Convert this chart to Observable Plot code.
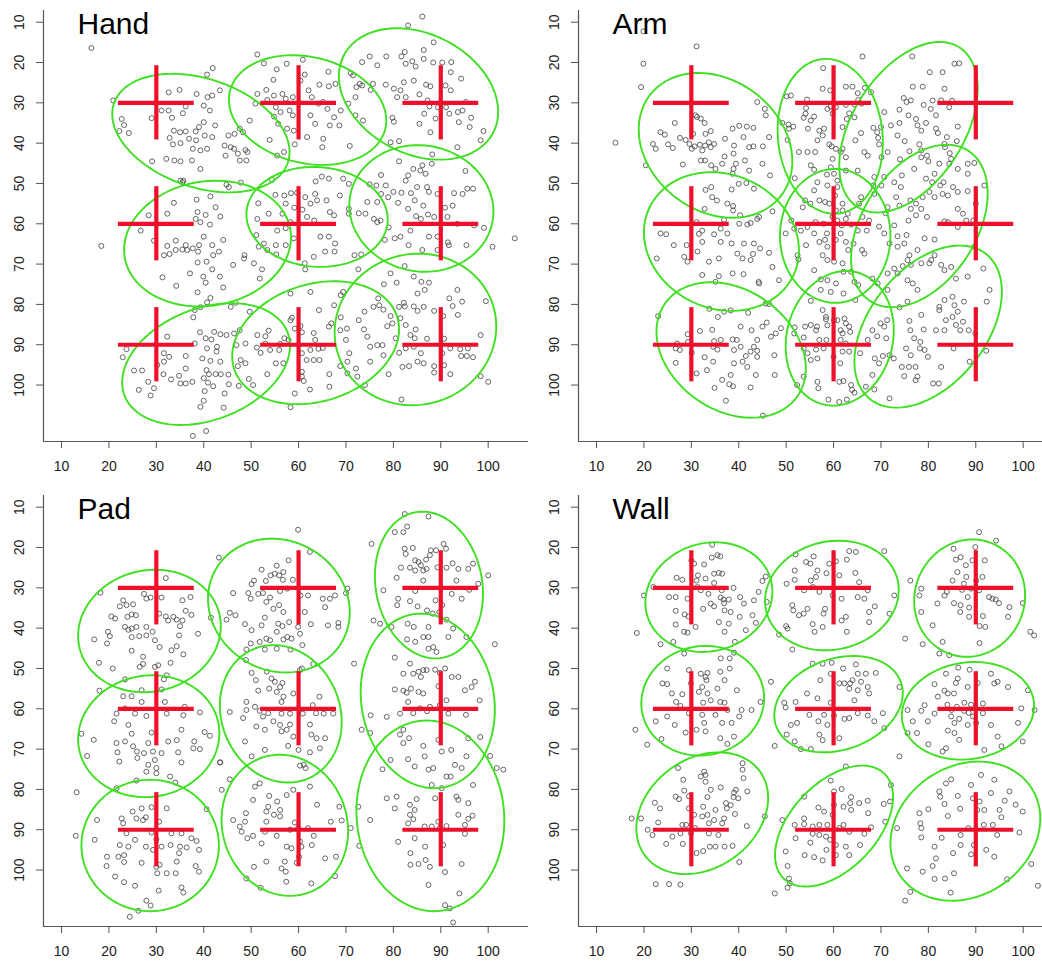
<!DOCTYPE html>
<html><head><meta charset="utf-8">
<script src="https://cdn.jsdelivr.net/npm/d3@7"></script>
<script src="https://cdn.jsdelivr.net/npm/@observablehq/plot@0.6"></script>
<style>
body{margin:0;background:#fff;}
#fig{position:relative;width:1042px;height:963px;overflow:hidden;background:#fff;font-family:"Liberation Sans",Arial,Helvetica,sans-serif;}
#fig svg{position:absolute;}
</style></head><body><div id="fig"></div>
<script>
// ---------- data ----------
const panelNames = ["Hand", "Arm", "Pad", "Wall"];
const targets = [30, 60, 90];
const xTicks = [10, 20, 30, 40, 50, 60, 70, 80, 90, 100];
const yTicks = [10, 20, 30, 40, 50, 60, 70, 80, 90, 100];

const handPts = [[16.3,16.4],[20.9,29.4],[22.7,34.0],[23.2,35.5],[22.2,37.0],[24.2,37.5],[29.1,44.5],[29.0,33.8],[31.1,31.9],[32.6,27.4],[34.9,26.8],[32.6,31.9],[33.3,33.7],[35.6,32.6],[36.2,30.9],[38.5,27.8],[33.7,36.9],[35.0,37.3],[32.8,38.7],[33.5,40.3],[35.1,40.0],[32.1,43.9],[33.8,44.3],[35.1,44.5],[37.5,44.3],[39.3,46.4],[35.7,49.3],[36.2,37.1],[38.3,37.1],[36.9,38.9],[39.0,36.0],[40.0,34.8],[38.4,39.3],[40.2,38.1],[41.8,38.5],[40.7,41.4],[37.7,41.4],[39.3,41.8],[42.4,35.6],[40.0,30.7],[41.3,31.9],[40.7,23.0],[41.9,21.4],[40.8,28.6],[41.8,28.2],[43.4,26.9],[45.2,38.1],[44.4,40.6],[45.7,41.0],[44.6,43.1],[46.4,41.4],[47.2,42.6],[47.6,44.3],[49.0,44.3],[49.2,42.2],[48.8,41.7],[46.5,37.7],[47.6,36.4],[49.7,34.4],[48.3,37.3],[35.5,49.7],
[51.3,18.0],[52.7,20.2],[55.4,21.7],[57.5,20.3],[60.9,19.3],[61.3,23.0],[60.4,24.5],[54.7,24.3],[53.2,26.8],[51.3,27.8],[50.9,30.2],[53.4,29.3],[54.8,28.2],[56.6,27.8],[57.3,29.0],[58.8,28.6],[55.2,31.1],[56.2,32.3],[58.1,31.9],[58.8,33.1],[54.8,33.4],[55.7,35.2],[57.6,36.4],[59.0,36.9],[61.8,38.5],[59.2,40.3],[56.9,42.2],[55.5,43.1],[53.9,39.2],[62.5,33.1],[63.5,35.2],[64.2,30.2],[62.8,28.6],[62.1,26.9],[64.4,25.5],[66.3,22.3],[66.4,25.9],[67.8,25.3],[65.2,29.8],[66.1,31.5],[67.5,33.6],[68.9,31.9],[68.6,35.6],[66.6,35.6],[65.0,41.0],[65.2,38.9],[70.8,40.7],[71.0,22.6],[71.5,23.2],[70.5,30.2],[72.0,28.6],[72.2,26.1],[72.0,33.1],[73.6,34.4],[72.9,25.3],
[86.1,8.6],[83.1,10.8],[88.5,15.0],[73.4,19.9],[75.0,18.5],[76.6,20.7],[78.5,18.5],[81.7,18.5],[82.4,17.4],[82.6,20.3],[84.0,19.7],[84.7,21.0],[86.4,16.9],[86.4,19.1],[88.4,20.0],[90.3,20.0],[92.2,19.9],[92.1,22.4],[94.3,24.0],[78.4,25.5],[73.4,25.7],[75.2,26.8],[75.7,25.3],[80.1,26.5],[81.5,26.9],[82.2,24.9],[84.3,24.5],[80.8,28.6],[82.6,28.6],[85.5,27.9],[86.9,25.5],[87.8,25.9],[91.0,25.7],[92.1,26.9],[87.2,29.4],[87.6,30.9],[89.4,31.1],[91.1,31.1],[91.8,32.7],[93.6,32.3],[86.5,32.7],[88.9,33.9],[85.5,35.2],[79.8,33.7],[80.1,34.7],[79.4,39.8],[81.2,39.5],[87.8,37.3],[93.5,41.0],[93.8,34.8],[96.1,36.0],[96.4,33.7],[95.3,29.8],[98.4,39.3],[99.0,37.0],[94.6,31.9],
[35.1,49.3],[33.7,54.8],[41.4,53.2],[38.5,54.0],[38.7,57.1],[38.3,58.8],[40.4,57.8],[42.5,55.9],[44.8,50.3],[45.3,50.9],[47.8,49.8],[43.5,58.2],[39.3,59.6],[41.3,60.2],[28.4,57.9],[32.3,57.5],[26.7,61.7],[18.4,65.5],[29.5,64.2],[31.6,67.8],[32.8,67.5],[32.3,65.5],[34.1,64.2],[34.1,66.5],[35.5,66.4],[36.2,65.3],[36.5,66.5],[37.7,66.1],[39.0,65.3],[38.8,66.9],[40.0,63.2],[38.7,69.6],[40.6,69.4],[42.0,67.8],[43.2,66.9],[41.8,65.3],[44.1,64.0],[46.2,70.2],[48.6,67.8],[48.5,68.6],[50.6,69.8],[51.1,62.8],[52.3,71.3],[51.8,73.6],[31.3,73.3],[37.1,72.3],[39.9,73.1],[40.4,74.6],[41.8,71.3],[43.4,73.1],[44.1,75.8],[34.2,75.4],[38.7,77.0],[41.4,78.4],[46.7,79.6],
[54.4,49.1],[63.6,49.5],[64.9,48.3],[66.4,48.8],[69.4,48.8],[70.6,50.1],[51.5,54.9],[53.7,57.5],[55.1,52.8],[57.0,53.0],[58.4,52.4],[59.7,52.3],[61.4,53.4],[62.5,55.0],[63.5,52.6],[63.9,54.2],[65.9,54.2],[68.7,53.0],[66.6,57.1],[67.5,57.9],[70.6,56.3],[70.6,57.5],[72.7,57.4],[74.1,57.5],[74.5,54.6],[75.9,58.8],[77.3,59.2],[57.3,55.0],[56.6,57.5],[59.1,56.0],[60.8,56.5],[61.8,58.3],[63.3,59.2],[57.3,61.1],[58.3,59.6],[55.5,61.7],[51.3,58.8],[51.6,65.7],[53.4,66.5],[52.7,64.9],[55.2,65.3],[57.3,65.3],[59.0,63.6],[61.3,69.8],[61.4,71.3],[63.2,68.2],[64.6,63.2],[66.4,63.2],[67.7,64.9],[67.6,66.9],[65.6,66.9],[55.3,67.6],[71.8,67.8],
[88.2,42.8],[81.2,44.5],[84.2,46.4],[86.1,45.5],[85.7,46.8],[88.1,45.1],[86.8,47.6],[83.1,48.0],[82.6,49.3],[77.4,47.9],[75.0,50.2],[76.4,50.5],[78.4,50.5],[77.4,52.6],[76.6,54.6],[78.9,53.4],[80.0,52.1],[81.7,52.3],[83.7,52.4],[85.0,50.9],[87.1,50.9],[87.5,52.1],[89.3,52.6],[92.8,52.4],[94.6,52.6],[95.6,51.3],[96.8,51.3],[95.2,46.9],[81.0,54.8],[83.1,56.3],[84.5,54.2],[86.3,55.5],[84.8,58.1],[87.3,57.7],[88.6,58.3],[90.9,56.0],[92.5,55.5],[91.4,58.3],[93.5,60.0],[99.1,61.0],[97.0,60.4],[76.6,59.6],[79.0,60.9],[83.6,61.7],[85.8,58.8],[78.2,64.0],[80.3,63.6],[81.5,63.2],[87.5,63.2],[89.3,63.2],[91.5,64.6],[89.3,66.5],[91.7,65.3],[95.4,65.3],[100.9,65.7],[105.6,63.6],[86.1,66.5],[83.2,65.3],[73.2,67.6],[72.6,71.3],
[38.1,81.4],[37.8,83.2],[39.3,80.7],[40.7,79.5],[39.2,86.9],[38.1,89.7],[40.4,88.4],[41.6,88.7],[42.2,86.8],[43.5,87.4],[44.8,87.6],[46.4,87.2],[40.7,90.9],[42.8,90.5],[42.7,91.7],[39.7,93.4],[41.4,94.0],[43.5,94.2],[32.3,88.0],[31.6,92.1],[32.7,93.0],[36.2,92.8],[31.6,94.2],[30.2,95.0],[31.5,97.3],[33.1,98.6],[34.8,97.7],[36.2,95.9],[37.6,99.2],[36.2,99.6],[35.1,99.6],[40.6,96.3],[41.1,97.3],[42.5,97.3],[43.6,97.3],[45.2,97.4],[40.0,98.3],[40.9,99.4],[42.0,100.3],[40.2,101.5],[45.3,99.8],[47.4,100.2],[49.5,98.5],[50.4,100.0],[44.4,102.1],[40.0,103.9],[39.3,105.4],[44.2,105.6],[37.7,112.6],[40.5,111.4],[22.9,93.1],[23.7,91.1],[25.3,96.4],[27.0,96.4],[26.3,101.2],[28.3,99.2],[29.5,100.8],[28.8,102.6],[47.8,93.8],[48.8,94.6],[47.2,95.3],[46.9,90.1],[48.8,89.7],[49.7,81.8],[47.6,86.4],[45.7,80.6],
[51.2,90.7],[52.0,92.0],[51.3,87.6],[53.0,87.9],[53.7,86.5],[53.0,89.7],[54.0,91.3],[53.4,97.3],[55.9,91.3],[56.1,89.8],[56.8,94.6],[55.2,94.6],[57.0,88.4],[57.9,88.8],[58.3,83.9],[59.2,86.0],[60.4,85.4],[60.7,86.9],[60.7,92.1],[60.7,96.7],[60.7,97.9],[61.7,93.8],[61.1,99.0],[62.5,91.3],[63.5,88.8],[63.2,93.8],[64.2,91.0],[65.1,90.8],[64.4,93.8],[63.2,87.1],[66.4,85.5],[64.3,81.4],[62.5,76.9],[58.3,77.3],[58.6,83.3],[66.9,84.7],[67.5,80.2],[68.9,77.7],[69.4,76.9],[68.9,83.2],[68.8,86.4],[70.2,86.0],[70.0,88.8],[70.7,92.1],[70.3,94.2],[70.3,97.1],[68.8,95.3],[66.5,97.3],[66.5,100.4],[62.4,101.1],[59.2,102.1],[58.3,105.5],[72.1,95.9],[72.4,97.9],[72.7,83.9],[73.9,81.8],[74.0,100.0],[73.8,86.2],[75.8,80.6],[75.1,94.2],[74.5,88.0],[75.1,90.5],[76.6,90.1],[77.7,90.1],[77.9,92.6],
[78.0,75.0],[79.4,72.3],[80.7,74.6],[82.4,70.5],[84.3,73.1],[85.9,74.4],[87.5,74.6],[86.6,76.4],[85.1,77.3],[86.4,80.6],[85.1,81.6],[84.3,80.5],[82.2,79.6],[82.4,80.5],[81.2,80.6],[77.0,80.2],[76.8,78.5],[77.9,81.3],[79.4,82.9],[79.8,84.7],[78.7,85.4],[81.5,83.4],[82.6,85.1],[84.7,86.2],[88.6,81.6],[90.5,82.9],[91.8,78.5],[92.5,80.4],[93.5,76.4],[94.5,79.3],[93.6,82.6],[90.7,88.5],[87.1,88.5],[83.6,87.6],[84.5,88.4],[80.5,88.4],[81.2,92.0],[82.6,90.9],[84.3,90.5],[85.8,92.1],[86.4,94.6],[85.1,94.2],[83.3,95.3],[81.9,95.5],[88.6,95.3],[88.6,96.9],[90.7,95.1],[92.0,97.3],[90.3,92.1],[92.0,90.9],[94.1,91.1],[94.3,92.8],[95.7,90.9],[95.5,92.8],[96.8,93.1],[98.4,87.6],[98.4,97.8],[100.0,99.2],[99.5,79.2],[81.7,103.6],[79.0,97.3]];

const armPts = [[19.9,12.3],[19.9,20.3],[19.4,26.1],[31.1,16.0],[14.0,39.9],[20.4,45.5],[21.9,40.2],[22.5,41.4],[23.5,37.3],[24.4,37.9],[25.1,40.3],[26.1,41.2],[26.5,35.0],[27.6,38.7],[28.2,45.3],[28.8,39.2],[29.6,40.2],[30.1,41.4],[30.9,33.1],[31.2,33.5],[32.0,33.9],[32.8,35.0],[30.4,37.7],[30.7,40.8],[31.8,40.4],[32.9,40.6],[32.3,41.8],[33.7,39.8],[33.0,37.7],[34.1,37.0],[34.8,40.2],[34.1,41.0],[32.0,44.3],[32.9,44.3],[34.2,45.5],[35.1,46.4],[36.5,45.1],[37.0,43.3],[37.1,38.9],[38.7,36.4],[39.0,40.6],[38.9,42.6],[39.4,45.1],[38.9,46.4],[40.1,35.7],[41.0,38.5],[41.7,35.9],[43.1,36.2],[42.2,41.0],[41.3,44.3],[42.2,46.8],[45.0,45.1],[43.9,29.8],[45.5,31.5],[45.7,33.1],[46.4,38.5],[45.1,40.8],[46.6,48.0],[43.1,40.8],[38.7,47.6],[33.0,51.6],[34.2,50.9],[34.4,53.4],[35.4,54.2],[32.8,56.3],[38.5,51.5],[40.0,50.1],[41.6,49.9],[43.2,51.3],[38.8,55.6],[38.8,56.7],[40.3,57.9],[42.5,59.8],[43.9,58.8],
[50.1,28.4],[51.0,28.2],[49.2,35.0],[50.5,35.4],[50.6,36.4],[51.5,35.9],[50.3,39.2],[52.7,42.2],[54.5,42.2],[56.1,42.2],[55.2,45.5],[55.9,46.6],[54.4,29.2],[54.2,31.3],[54.1,32.7],[53.7,33.7],[55.2,34.4],[55.9,33.4],[54.6,36.4],[57.0,36.9],[56.6,39.3],[57.7,38.1],[58.0,36.4],[58.7,31.5],[59.4,30.9],[60.5,31.1],[59.8,32.7],[57.7,26.5],[59.3,26.9],[57.8,21.4],[59.1,40.3],[59.6,40.8],[60.5,41.4],[59.8,43.9],[59.4,46.0],[60.1,47.6],[60.8,49.3],[61.5,42.2],[61.9,41.4],[62.6,43.5],[61.9,36.0],[62.8,34.0],[63.3,32.6],[62.6,30.5],[62.6,26.0],[64.0,26.0],[65.1,27.6],[65.2,29.3],[64.4,30.4],[65.9,30.2],[66.1,18.5],[66.6,26.3],[67.9,27.4],[64.4,33.6],[65.8,37.5],[64.6,39.3],[66.5,42.2],[67.2,43.1],[65.1,46.8],[68.4,36.2],[69.2,37.3],[69.4,38.7],[69.6,40.3],
[76.6,18.5],[85.5,20.3],[86.5,20.2],[80.3,22.4],[83.0,22.4],[83.4,26.5],[82.7,29.4],[80.9,29.4],[78.8,26.0],[76.7,26.0],[74.8,28.8],[75.4,29.8],[76.3,29.4],[73.9,31.7],[70.7,32.3],[72.1,35.6],[73.9,35.0],[75.8,33.1],[77.4,34.0],[77.7,35.6],[79.5,35.0],[81.6,33.1],[78.5,36.9],[78.1,40.3],[73.5,38.1],[78.5,41.8],[77.0,46.4],[74.4,48.0],[72.8,49.7],[70.1,43.5],[71.4,42.2],[70.0,36.0],[81.6,36.4],[82.3,45.1],[83.4,40.2],[83.9,38.5],[86.2,35.9],[84.4,31.1],[85.0,29.5],[79.0,30.5],[80.5,31.5],[82.0,37.5],[86.0,39.5],[84.5,42.5],[80.0,44.5],[76.0,42.0],[75.0,39.5],[74.0,44.0],
[78.5,43.5],[79.7,43.1],[83.5,41.0],[84.8,43.9],[84.4,45.1],[86.2,46.4],[88.3,47.6],[81.3,47.6],[79.5,48.8],[80.8,49.7],[82.5,50.5],[83.2,49.7],[80.2,52.1],[81.3,53.4],[83.0,52.6],[84.1,53.0],[85.2,50.9],[86.2,52.1],[88.3,51.9],[86.2,56.3],[87.3,57.5],[89.5,59.2],[90.0,55.0],[91.8,50.5],[89.7,44.9],[88.3,45.1],[78.8,53.4],[77.4,55.0],[76.2,54.2],[76.3,56.3],[77.4,57.9],[75.8,59.2],[78.5,56.3],[79.7,58.3],[74.2,50.9],[73.2,53.4],[73.9,55.5],[71.4,55.9],[70.1,50.5],[70.7,48.4],[68.6,48.4],[68.4,50.5],[68.6,52.6],[71.0,57.4],[69.6,60.7],[72.8,60.4],[73.5,63.1],[83.4,59.4],[84.1,59.6],[86.2,60.8],[88.0,59.2],
[70.7,62.4],[71.8,64.9],[73.5,65.7],[74.9,64.9],[75.4,62.8],[76.0,67.8],[77.7,66.5],[79.2,63.6],[81.3,63.9],[81.3,67.8],[80.6,69.0],[80.2,69.8],[78.5,69.8],[75.6,69.0],[76.3,70.2],[74.6,70.5],[72.8,71.1],[71.4,72.3],[73.5,72.3],[71.4,76.4],[69.3,74.8],[68.2,73.6],[75.6,74.0],[76.7,74.8],[77.7,76.4],[75.6,79.3],[73.9,80.7],[78.5,82.6],[82.7,70.2],[83.4,71.5],[84.8,70.7],[85.8,73.6],[88.3,73.1],[89.7,65.7],[91.6,71.1],[92.9,76.4],[92.3,79.3],[85.1,78.1],[83.4,78.9],[82.3,80.6],
[82.3,81.4],[83.7,83.9],[81.6,86.4],[83.4,86.4],[85.1,83.1],[85.5,80.2],[87.5,79.3],[86.2,81.8],[85.8,85.1],[87.3,84.3],[88.5,86.4],[86.7,86.4],[89.9,87.2],[92.2,91.5],[88.7,94.2],[85.3,90.9],[82.7,95.5],[82.2,99.6],[81.0,99.6],[79.2,91.3],[79.9,93.0],[78.2,90.9],[77.0,88.4],[76.2,86.4],[78.3,89.3],[76.0,84.1],[79.0,86.2],[76.3,92.6],[75.3,90.9],[75.9,95.5],[77.3,95.5],[77.7,97.9],[77.3,98.8],[74.9,97.8],[74.4,95.5],[72.7,93.4],[71.8,92.6],[70.4,92.8],[68.7,93.4],[69.6,94.6],[71.1,88.4],[70.7,85.5],[71.3,83.9],[71.8,103.3],[68.2,97.5],[68.6,101.1],[66.8,100.4],
[37.6,55.0],[36.9,59.0],[40.1,60.0],[41.8,60.2],[44.3,58.3],[31.1,59.6],[32.3,61.7],[36.2,61.2],[31.6,62.5],[47.1,56.9],[22.7,68.6],[23.5,62.4],[24.7,62.6],[26.3,65.3],[28.5,68.2],[29.2,69.4],[29.0,65.3],[31.3,66.9],[32.3,64.5],[33.7,69.4],[35.8,68.6],[34.8,62.6],[36.2,64.5],[37.6,62.4],[38.5,64.9],[41.1,64.9],[39.7,67.4],[40.8,68.6],[43.2,64.9],[44.5,66.1],[46.4,67.2],[43.0,67.5],[42.5,69.0],[38.7,72.3],[35.8,73.0],[35.1,74.4],[32.3,72.7],[41.0,72.5],[44.2,74.4],[47.1,70.7],[48.5,74.0],[45.7,79.8],
[51.8,48.7],[56.6,49.7],[58.6,47.8],[58.7,50.5],[60.8,50.9],[62.6,46.8],[55.9,51.7],[54.0,54.2],[55.1,55.0],[57.0,54.2],[58.2,54.6],[59.1,55.0],[60.3,53.0],[60.5,56.7],[61.9,56.7],[61.9,55.0],[63.0,57.5],[65.4,55.0],[65.8,53.4],[66.1,58.3],[53.5,55.9],[51.1,59.2],[51.7,61.2],[53.1,61.7],[54.5,60.8],[56.2,59.6],[57.9,60.0],[59.8,58.3],[60.8,59.2],[61.7,60.4],[62.6,58.8],[63.7,60.2],[65.1,61.7],[67.0,61.7],[67.5,59.2],
[49.9,62.4],[52.4,67.8],[52.6,68.8],[54.2,65.3],[55.9,62.4],[57.0,64.5],[58.2,64.0],[58.6,62.4],[58.7,65.7],[60.5,64.0],[61.5,62.4],[62.6,64.5],[63.1,66.5],[64.2,64.9],[66.0,66.5],[66.5,67.4],[61.9,69.8],[60.1,69.4],[58.7,69.0],[57.7,67.8],[55.9,71.5],[57.3,73.8],[58.7,74.0],[60.5,74.8],[62.1,71.9],[63.7,71.9],[64.4,74.4],[65.2,75.2],[62.1,77.3],[59.4,76.9],[57.3,76.4],[64.6,78.9],
[55.2,79.1],[57.7,81.4],[58.4,83.1],[58.4,83.7],[60.1,83.9],[60.8,83.9],[62.3,83.5],[62.6,84.7],[63.3,85.5],[63.5,86.8],[61.9,87.2],[61.5,86.4],[58.7,85.2],[56.5,85.5],[56.3,86.4],[55.2,85.1],[54.0,85.5],[53.7,88.2],[51.8,85.7],[51.7,87.2],[53.7,90.9],[54.5,92.1],[55.2,93.8],[56.6,93.4],[56.3,91.2],[57.9,90.9],[58.5,88.8],[57.0,88.8],[61.5,88.8],[62.6,89.7],[60.0,93.0],[61.4,94.6],[61.9,91.7],[63.3,91.7],[65.6,92.1],[67.2,88.8],[68.2,86.4],[69.2,87.9],[69.9,84.7],[56.6,99.2],[56.8,100.8],[61.2,99.2],[62.1,99.0],[63.7,100.0],[63.9,101.2],[64.4,101.9],[58.9,103.6],[61.2,104.2],[62.8,103.6],[53.7,97.9],[52.3,100.0],
[23.0,82.9],[26.7,94.5],[27.0,89.7],[26.7,90.9],[27.6,91.3],[29.2,87.4],[29.3,89.3],[30.1,92.0],[31.1,97.1],[31.8,86.6],[32.8,93.1],[33.3,96.3],[34.6,94.2],[34.6,90.5],[34.8,89.1],[34.4,86.3],[35.5,91.2],[36.2,88.8],[35.6,83.1],[36.9,81.8],[33.8,81.1],[34.9,100.7],[36.5,98.7],[37.3,103.9],[38.0,99.8],[38.8,100.3],[38.3,97.5],[39.0,94.6],[39.0,91.3],[38.7,88.7],[39.6,88.8],[40.4,90.5],[41.5,92.8],[40.8,94.2],[42.5,91.7],[43.2,90.5],[43.9,88.8],[43.9,91.5],[43.9,93.0],[41.8,95.5],[42.7,86.4],[42.0,82.1],[38.3,81.5],[40.4,85.5],[43.6,97.5],[42.5,100.6],[47.5,92.6],[46.8,88.0],[47.8,87.2],[48.9,85.9],[45.0,85.5],[45.9,84.5],[46.4,79.9],[44.3,74.8],[47.6,97.5],[45.1,107.6]];

const padPts = [[18.2,31.2],[16.9,42.8],[17.9,48.6],[20.8,50.0],[19.8,40.9],[20.2,42.0],[19.6,43.8],[20.5,37.1],[21.3,37.6],[22.3,34.6],[23.0,33.1],[23.7,34.3],[23.9,37.2],[24.8,36.6],[25.7,36.8],[23.4,39.7],[24.1,40.4],[24.8,40.1],[25.8,39.7],[24.8,42.2],[26.4,42.0],[27.9,41.8],[29.7,43.0],[29.2,40.9],[27.9,39.7],[24.8,45.6],[27.2,47.1],[27.2,48.9],[26.5,49.6],[29.7,49.6],[30.4,49.2],[30.7,44.7],[32.2,51.7],[33.2,45.5],[33.0,48.6],[34.3,44.5],[35.0,39.5],[35.7,46.5],[34.8,41.8],[32.5,38.1],[30.6,36.4],[32.0,37.1],[33.6,37.2],[34.3,37.9],[35.5,38.1],[36.2,35.7],[37.4,36.7],[35.5,33.1],[37.2,32.3],[27.4,31.5],[27.9,32.7],[28.8,32.4],[31.1,32.4],[32.0,27.6],[25.1,34.1],[41.5,37.4],[38.8,41.4],[23.4,52.7],[18.0,55.5],
[59.9,15.6],[43.2,22.5],[46.2,31.3],[44.8,37.9],[45.5,36.2],[46.7,36.8],[48.7,39.0],[50.1,40.5],[52.2,39.3],[52.9,37.4],[49.4,31.3],[50.1,29.1],[49.9,32.7],[50.6,28.2],[51.5,31.5],[52.5,31.3],[53.1,28.3],[52.2,25.5],[54.1,26.9],[55.0,26.5],[55.4,24.5],[55.9,26.9],[56.8,26.1],[57.9,23.2],[58.8,28.0],[56.7,28.0],[54.0,32.4],[56.1,30.8],[57.6,30.2],[53.2,33.5],[54.7,35.2],[55.9,34.3],[56.8,36.0],[55.7,38.9],[56.6,39.5],[55.4,40.9],[54.0,43.0],[56.8,42.8],[57.6,42.2],[58.5,42.6],[55.4,45.1],[58.0,38.5],[60.4,31.9],[62.0,31.9],[61.3,36.0],[59.9,39.7],[60.3,41.4],[62.4,21.1],[65.1,32.7],[66.6,32.7],[65.6,34.8],[67.7,31.9],[62.6,39.0],[66.2,39.3],[68.4,38.7],[68.4,39.7],[70.3,30.2],[70.0,31.3],[60.8,44.2],[58.3,45.3],[51.8,43.4],[49.9,43.8],[49.0,45.3],[53.2,42.6],
[82.4,11.7],[87.4,12.3],[82.9,14.8],[82.1,16.2],[80.3,16.2],[75.4,19.1],[82.4,20.3],[82.6,21.6],[84.1,20.1],[84.6,23.2],[85.3,23.6],[85.8,24.4],[86.9,23.0],[87.7,21.9],[87.9,20.7],[89.0,20.7],[90.6,19.1],[91.1,20.3],[89.3,24.9],[87.0,25.3],[86.3,25.7],[84.6,25.7],[83.5,25.0],[81.6,25.0],[80.7,27.5],[91.2,25.0],[92.5,23.9],[93.7,25.3],[95.8,25.3],[96.8,24.0],[97.9,29.0],[100.0,26.9],[77.9,30.6],[86.3,28.2],[93.3,28.2],[92.3,31.5],[94.4,32.7],[96.0,30.5],[84.6,30.8],[83.5,33.3],[81.0,32.7],[80.8,34.3],[85.1,34.6],[87.1,35.6],[88.9,33.1],[90.3,34.3],[89.7,36.0],[88.3,36.4],[87.4,39.7],[86.3,42.2],[87.4,42.2],[91.2,37.9],[92.6,40.1],[91.6,42.2],[95.4,42.2],[75.8,38.1],[77.2,38.9],[79.6,39.7],[83.0,38.9],[84.3,39.7],[82.9,42.8],[84.6,43.4],[87.4,45.1],[88.4,44.7],[89.1,45.9],[101.4,44.0],
[31.6,52.7],[31.1,55.2],[26.9,55.4],[23.0,56.9],[24.8,56.9],[26.9,58.3],[31.8,58.3],[23.4,59.9],[21.6,61.2],[25.5,61.2],[27.9,61.8],[32.2,61.2],[35.7,61.6],[36.0,59.5],[39.2,60.9],[14.2,66.2],[15.4,71.7],[16.8,67.7],[21.1,63.1],[21.6,68.5],[21.8,70.8],[22.2,73.1],[23.4,68.1],[24.1,64.0],[24.8,66.2],[25.1,69.3],[25.9,70.6],[26.0,72.2],[27.4,71.0],[28.3,68.5],[29.0,65.9],[29.3,70.6],[27.9,75.6],[28.3,73.9],[29.7,72.7],[30.0,74.7],[30.0,76.0],[31.1,71.0],[32.5,68.1],[32.9,76.8],[34.0,78.3],[34.3,67.8],[35.3,65.2],[34.6,70.8],[35.3,73.3],[37.8,69.8],[38.0,68.1],[39.2,70.0],[40.2,65.8],[41.3,66.7],[25.8,77.8],[21.6,79.7],[43.4,73.3],
[48.9,47.9],[52.9,45.3],[50.1,51.1],[53.3,50.8],[51.0,52.9],[54.3,52.5],[55.0,53.3],[56.6,53.6],[56.1,54.6],[55.4,55.8],[56.8,57.0],[56.4,58.3],[58.9,56.2],[60.3,50.4],[60.7,50.0],[63.1,48.9],[51.5,55.5],[53.8,55.0],[49.0,58.3],[49.0,60.3],[50.8,59.5],[51.8,60.5],[56.4,61.2],[58.2,61.2],[60.9,61.2],[63.0,59.1],[64.4,57.0],[65.3,61.2],[67.3,61.2],
[48.3,62.3],[48.7,68.1],[51.1,64.4],[52.5,61.9],[52.9,65.2],[53.6,61.1],[54.7,63.1],[56.1,64.0],[56.4,65.6],[57.5,65.2],[58.2,63.9],[57.8,69.2],[58.9,66.9],[60.0,70.2],[62.4,63.9],[62.7,66.4],[63.8,67.3],[63.7,61.1],[62.4,70.8],[64.5,69.8],[65.6,67.3],[52.9,70.2],[50.1,71.8],[45.5,60.8],[43.5,73.3],[43.8,80.1],[45.5,77.5],
[13.2,80.7],[13.0,91.5],[17.0,92.5],[17.5,87.6],[19.6,96.7],[19.5,99.0],[21.3,101.6],[22.0,96.7],[22.3,93.8],[22.7,87.2],[23.0,88.4],[23.2,96.3],[23.2,98.0],[23.2,103.0],[23.7,90.9],[24.1,94.2],[25.0,85.5],[25.5,92.5],[25.8,87.2],[25.5,103.9],[24.4,111.6],[26.2,110.1],[26.9,84.7],[27.2,87.6],[27.8,86.9],[26.9,98.2],[27.8,94.2],[27.9,107.6],[28.8,108.8],[29.0,84.4],[29.0,90.7],[29.3,95.0],[30.6,88.0],[30.0,92.4],[30.0,99.2],[30.2,100.8],[30.7,98.7],[30.5,105.1],[31.1,94.2],[32.2,84.7],[32.2,100.8],[33.0,93.8],[33.2,90.9],[34.1,100.8],[34.3,97.9],[34.8,95.8],[35.0,94.2],[35.3,90.9],[35.3,104.3],[35.7,105.6],[36.4,94.4],[37.4,92.1],[38.3,99.0],[38.5,92.8],[39.0,95.0],[39.0,100.4],[40.6,84.9],
[46.2,87.6],[47.6,89.2],[48.0,90.5],[48.7,88.0],[48.9,85.9],[49.2,92.1],[50.4,91.5],[50.6,99.2],[49.0,102.1],[50.4,82.6],[50.8,79.3],[51.8,78.5],[52.0,104.4],[52.2,93.4],[52.9,90.5],[53.2,85.5],[53.6,84.3],[53.2,88.0],[53.2,97.9],[53.8,81.6],[54.8,86.3],[55.4,91.5],[55.5,83.0],[56.1,85.1],[56.1,86.7],[56.4,99.6],[57.3,100.4],[57.4,102.9],[57.1,97.9],[57.5,94.2],[57.5,81.4],[58.2,90.0],[58.5,94.6],[58.9,80.1],[59.2,88.2],[59.9,89.6],[59.6,98.2],[60.1,96.7],[60.6,94.2],[60.3,92.9],[60.3,74.1],[61.1,73.9],[61.5,74.7],[62.0,89.6],[62.4,79.3],[62.7,103.3],[62.8,93.8],[63.2,91.5],[63.9,83.8],[65.6,97.1],[66.8,88.0],[67.7,101.5],[67.9,96.7],[68.6,84.3],[69.1,87.7],[71.0,89.6],
[73.3,65.2],[75.1,66.0],[72.6,84.3],[72.8,94.0],[75.1,87.6],[77.7,75.0],[78.6,82.2],[79.4,72.7],[80.3,84.7],[80.7,81.8],[81.0,93.0],[81.4,66.4],[82.1,65.2],[82.1,68.5],[83.1,88.4],[83.1,72.5],[83.5,83.8],[83.5,86.3],[83.6,95.8],[83.6,98.7],[84.2,87.4],[84.5,92.1],[84.5,85.1],[84.9,82.4],[85.3,98.5],[86.3,69.2],[86.6,71.8],[86.6,89.2],[86.7,94.2],[86.8,97.5],[87.4,103.7],[88.1,89.2],[87.7,99.2],[88.1,78.9],[88.4,74.7],[88.8,82.2],[89.5,88.0],[89.8,89.6],[90.2,70.6],[90.2,79.7],[90.5,93.8],[90.9,100.5],[91.2,89.1],[90.9,108.7],[91.9,109.5],[92.1,76.8],[92.6,113.0],[93.0,73.9],[93.3,81.8],[93.7,82.6],[93.7,86.3],[94.4,98.5],[93.9,105.8],[94.4,74.7],[95.1,88.8],[95.1,91.0],[95.4,71.8],[95.8,83.4],[95.8,87.3],[96.7,86.5],[96.8,78.9],[98.3,67.0],[100.4,71.7],[101.8,74.7],[103.2,75.1],
[71.7,48.8],[80.3,47.3],[83.5,48.8],[82.1,51.3],[84.2,51.3],[85.3,50.8],[85.8,52.1],[86.3,50.4],[87.0,50.4],[88.8,50.3],[89.8,51.1],[90.9,50.0],[92.3,52.1],[93.7,52.1],[97.2,53.3],[95.1,55.4],[96.5,54.6],[80.3,55.2],[82.1,55.5],[82.8,56.0],[83.7,55.0],[85.3,55.8],[86.3,56.2],[89.5,54.4],[83.1,58.3],[85.6,59.9],[87.7,59.5],[89.8,59.1],[91.2,57.9],[98.2,57.9],[75.2,61.6],[78.6,62.0],[81.4,61.2],[91.6,61.2],[84.2,61.1],[87.1,60.6],[95.3,61.5],[95.8,67.3],[83.3,67.3],[84.5,74.3],[87.4,75.1],[89.5,67.7],[91.2,76.8],[92.2,70.2]];

const wallPts = [[18.5,41.2],[20.0,31.9],[22.0,29.8],[23.5,44.0],[25.3,32.3],[26.7,32.3],[26.7,35.7],[26.7,39.1],[26.2,43.4],[26.9,27.5],[28.1,28.0],[28.6,36.6],[28.5,40.9],[29.2,41.1],[29.2,32.7],[29.4,37.1],[30.0,23.2],[30.6,24.0],[31.1,28.2],[31.3,29.8],[31.4,26.9],[32.0,30.6],[32.5,35.2],[32.7,24.2],[33.0,27.7],[30.9,39.7],[33.6,31.5],[34.1,33.9],[34.4,19.3],[34.3,22.5],[34.8,28.8],[34.8,26.5],[35.5,21.9],[36.1,22.2],[35.8,26.3],[36.5,26.5],[36.4,30.6],[36.2,32.4],[36.8,32.9],[36.9,33.8],[34.8,34.6],[35.8,38.5],[37.0,35.6],[37.9,32.9],[37.9,38.9],[38.3,36.0],[37.0,40.9],[38.9,30.0],[39.2,43.4],[40.3,32.3],[41.1,33.9],[40.2,37.2],[41.5,40.5],[42.9,36.8],[43.2,33.1],[43.6,38.7],[44.2,31.0],[45.0,28.3],[45.7,27.2],[45.9,33.5],[39.0,46.1],[28.5,46.3],
[48.5,41.6],[50.1,29.0],[50.0,39.5],[50.3,40.1],[51.3,34.3],[51.5,35.6],[51.8,25.7],[52.0,21.7],[51.8,28.0],[52.7,36.8],[53.7,36.4],[54.2,23.6],[53.8,30.6],[54.5,35.2],[55.1,24.0],[55.2,28.2],[55.6,29.8],[55.6,39.0],[56.0,40.9],[56.3,27.3],[55.8,22.2],[56.6,25.7],[57.0,31.0],[57.7,39.7],[57.9,36.4],[58.2,35.2],[58.5,26.4],[59.1,24.0],[59.8,31.9],[60.5,23.4],[61.2,26.9],[61.7,38.1],[61.7,32.7],[62.8,23.0],[62.6,37.2],[63.3,20.9],[64.7,21.1],[64.6,26.3],[65.4,28.6],[65.1,32.3],[62.8,40.9],[66.5,32.7],[67.2,30.6],[67.5,36.0],[68.7,34.6],[67.5,38.5],[70.7,20.9],[71.8,36.4],[72.8,31.9],[76.2,28.2],[75.1,42.6],[51.3,45.3],
[78.5,30.2],[78.1,31.9],[78.5,36.0],[80.9,39.3],[78.8,44.0],[82.3,46.3],[83.0,43.4],[84.4,46.7],[81.9,33.9],[83.4,31.9],[83.9,31.0],[85.1,28.2],[85.3,20.3],[85.8,23.0],[86.1,26.1],[85.4,33.8],[86.8,34.3],[86.8,22.4],[87.1,30.5],[87.5,29.0],[87.9,24.4],[88.0,27.3],[88.3,32.3],[88.6,34.9],[88.6,37.2],[89.0,30.2],[89.3,23.2],[89.9,19.9],[90.1,28.2],[90.7,16.2],[90.7,30.6],[91.4,27.3],[91.9,23.2],[91.5,37.0],[90.8,39.5],[92.0,39.7],[90.8,43.7],[92.8,32.3],[93.5,32.7],[94.2,32.9],[94.9,33.8],[94.3,18.3],[97.1,34.8],[96.8,37.2],[99.9,33.8],[101.5,40.9],[102.3,41.8],[86.7,36.0],
[29.5,50.4],[24.9,50.0],[23.9,53.7],[24.9,53.9],[25.9,56.2],[28.1,56.4],[29.9,53.7],[32.0,51.3],[33.0,52.1],[33.4,51.1],[33.2,52.9],[32.3,54.6],[31.6,55.8],[33.4,56.2],[35.5,55.0],[36.1,50.8],[37.0,52.9],[38.1,50.0],[38.1,47.5],[36.2,47.5],[39.6,55.4],[26.8,58.3],[27.7,59.3],[32.5,58.5],[34.1,57.9],[36.1,58.3],[37.0,58.5],[37.6,60.3],[40.6,60.3],[42.7,60.3],[44.6,58.3],[46.8,53.3],
[18.2,65.2],[20.7,68.9],[22.5,63.1],[23.7,67.5],[24.9,61.9],[26.5,64.0],[28.8,65.9],[29.5,61.1],[31.1,65.2],[32.3,61.5],[32.7,63.5],[33.0,65.6],[35.1,61.5],[36.1,67.3],[36.5,63.5],[37.6,68.7],[38.5,63.5],[39.0,66.9],[40.1,61.9],
[49.9,59.7],[49.6,58.5],[52.0,58.3],[54.4,56.2],[55.6,48.8],[56.6,57.4],[57.2,52.9],[57.7,48.8],[59.4,51.3],[59.6,48.6],[61.2,53.7],[62.0,50.0],[62.3,53.7],[63.3,55.0],[63.5,53.7],[64.0,52.9],[64.7,49.0],[65.1,51.3],[65.1,55.4],[65.8,53.3],[66.8,51.3],[67.2,54.6],[67.5,56.2],[68.9,51.1],[64.4,57.9],[73.9,54.6],[59.4,58.5],
[47.6,69.2],[51.0,64.0],[52.3,63.5],[51.8,68.1],[53.1,70.0],[55.2,70.0],[54.9,61.5],[56.8,63.1],[57.0,66.4],[57.7,67.8],[58.0,61.5],[58.7,64.0],[60.1,61.7],[61.2,67.3],[62.3,62.5],[63.3,62.3],[65.1,61.1],[67.2,61.7],[68.6,63.1],[70.4,61.1],[70.7,64.8],[50.1,66.4],
[75.6,60.3],[78.5,60.5],[79.2,59.1],[81.3,53.9],[82.0,57.0],[83.4,55.5],[84.1,56.2],[83.7,51.3],[84.9,60.3],[85.4,56.2],[85.8,53.6],[86.2,52.5],[86.3,49.8],[87.6,58.5],[88.3,54.6],[88.7,50.3],[90.4,53.6],[91.5,58.7],[93.2,51.3],[93.9,53.7],[94.6,53.3],[96.8,54.6],[99.6,59.9],[101.0,55.4],[102.4,60.3],
[76.7,63.1],[77.6,66.0],[75.6,66.0],[79.9,63.1],[80.0,68.8],[81.3,61.2],[83.0,70.6],[83.7,69.8],[84.1,65.4],[84.8,61.9],[85.5,66.0],[86.5,67.7],[88.3,64.0],[89.4,61.9],[90.1,63.5],[91.5,61.1],[91.8,70.2],[93.2,64.0],[94.6,66.9],[95.4,69.3],[98.9,63.5],[99.9,68.1],[73.9,71.8],[86.0,59.5],[87.5,60.5],[88.5,61.0],[86.5,62.5],[89.0,59.0],[84.0,59.0],[85.5,63.5],
[17.4,87.2],[19.4,87.2],[20.8,90.0],[21.8,91.3],[22.3,83.3],[22.5,103.5],[23.0,88.2],[23.4,84.7],[24.7,93.5],[25.3,103.5],[26.0,91.7],[26.7,81.8],[27.2,74.7],[27.4,82.4],[27.7,90.9],[27.7,103.6],[28.1,88.8],[28.2,93.5],[28.3,77.6],[28.5,80.3],[28.9,88.8],[29.5,81.7],[29.5,84.7],[29.9,90.9],[30.6,86.3],[30.8,89.6],[31.1,95.8],[32.0,76.8],[32.3,86.7],[32.5,84.3],[32.7,75.6],[33.0,76.4],[33.0,78.1],[33.4,81.9],[33.4,86.3],[33.7,88.4],[34.1,80.1],[32.5,95.3],[33.9,94.2],[33.7,90.9],[35.1,94.2],[34.8,87.6],[35.1,85.1],[35.7,91.3],[36.2,79.5],[36.5,88.4],[36.9,87.2],[37.3,83.4],[37.5,84.7],[38.3,83.9],[37.0,94.2],[38.7,94.0],[38.9,81.9],[39.0,80.8],[39.2,86.1],[39.4,80.1],[39.9,82.2],[40.1,98.0],[40.8,73.5],[40.8,75.1],[41.0,77.2],[41.7,89.1],[41.8,80.5],[45.5,86.7],
[47.6,105.8],[49.2,87.6],[49.9,95.4],[50.3,99.0],[50.6,102.1],[50.3,104.4],[50.8,103.3],[51.8,88.8],[52.0,92.1],[53.8,81.8],[53.8,87.2],[53.8,88.6],[53.9,96.3],[55.1,93.2],[55.6,89.2],[55.6,91.0],[55.9,96.8],[56.8,84.5],[57.0,88.8],[57.0,91.3],[57.7,97.6],[58.0,85.5],[58.4,91.7],[58.5,95.0],[58.7,88.8],[59.4,77.8],[59.3,92.5],[59.8,86.3],[60.1,80.5],[60.1,83.8],[60.5,93.8],[60.5,96.3],[61.2,89.6],[61.7,79.9],[62.1,84.3],[62.1,88.8],[62.6,74.3],[62.6,94.2],[63.3,96.3],[63.3,90.5],[63.7,85.1],[63.5,83.4],[63.7,81.9],[65.4,83.4],[65.6,93.8],[66.5,91.0],[67.2,82.8],[67.3,85.9],[67.9,89.4],[70.6,83.6],[70.9,88.0],[71.9,83.0],[72.1,78.9],[73.4,89.6],
[75.1,107.6],[75.5,99.6],[76.2,105.4],[78.1,85.9],[78.3,88.4],[78.5,89.6],[78.5,91.9],[78.8,100.4],[80.0,84.9],[80.9,99.0],[81.3,94.2],[81.6,97.1],[81.3,102.2],[82.3,80.5],[82.5,81.8],[82.8,92.0],[83.4,83.6],[83.5,102.1],[83.7,78.5],[84.1,86.6],[84.7,105.6],[84.8,77.5],[85.2,95.8],[85.4,100.8],[86.2,81.6],[86.7,84.8],[86.8,91.3],[86.8,93.8],[88.4,89.6],[89.0,78.9],[89.0,96.1],[89.4,82.2],[89.6,93.8],[90.3,85.1],[90.8,83.0],[91.1,76.4],[91.7,88.8],[91.8,85.1],[92.2,95.0],[93.2,80.9],[93.6,88.8],[93.9,77.6],[93.9,96.7],[94.5,91.3],[95.0,85.1],[95.4,86.9],[96.1,82.8],[96.6,102.3],[97.1,80.5],[98.4,83.8],[99.2,90.7],[99.9,85.5],[101.7,98.5],[103.1,103.9]];

// ellipse per target: [centre x, centre y, half-width, half-height, correlation]
const handEll = [[39.4,37.5,18.7,14.7,0.32],[61.9,31.8,16.6,13.6,0.19],[85.3,27.8,16.8,16.3,0.27],[40.8,64.9,17.6,15.6,-0.1],[63.9,58.3,14.9,12.4,0.05],[85.9,56.2,15.2,15.7,0.05],[40.5,94.8,17.7,15.1,-0.3],[63.6,89.5,17.6,15.25,-0.22],[84.65,86.2,17.05,18.8,-0.04]];
const armEll = [[35.1,40.55,16.2,17.95,0.22],[59.3,38.3,11.1,19.2,0.08],[75.8,36.05,14.6,21.15,-0.45],[36.35,64.4,16.35,17.2,0.13],[60.35,63.0,11.65,16.6,0.0],[78.1,60.55,14.4,20.15,-0.4],[38.4,91.3,15.75,16.8,0.27],[61.3,88.4,11.4,16.7,-0.12],[79.95,85.5,15.55,20.1,-0.43]];
const padEll = [[28.55,40.7,15.05,15.2,-0.08],[55.85,34.4,14.95,16.6,0.1],[87.5,29.3,11.4,18.2,0.12],[28.4,66.8,14.9,15.1,-0.05],[56.25,61.25,12.85,17.05,0.12],[87.25,58.05,14.15,21.65,0.1],[28.7,93.9,14.5,16.3,0.0],[57.1,88.9,13.35,17.5,0.08],[87.8,86.55,15.6,23.65,0.05]];
const wallEll = [[33.7,32.3,13.4,13.6,-0.1],[59.65,31.9,14.1,13.6,-0.1],[88.7,32.55,11.7,14.55,-0.05],[32.4,58.0,12.95,13.6,-0.05],[61.05,58.85,13.55,11.95,-0.23],[88.35,60.5,13.95,12.1,-0.1],[32.3,85.9,13.9,15.1,-0.25],[60.1,89.1,12.45,15.0,-0.48],[87.8,90.35,15.8,17.25,-0.18]];

// ---------- layout / style ----------
const xDomain = [6.2, 108.5];
const yDomain = [7.1, 114];
const crossHalfX = 8, crossHalfY = 9.2;
const GREEN = "#3ee020", RED = "#ee0f2a", PTS = "#4a4a4a", AXIS = "#555";
const positions = [[0, 0], [535, 0], [0, 485], [535, 485]];

const targetGrid = targets.flatMap(y => targets.map(x => ({x, y})));

function outline(ell) {
  return ell.flatMap(([cx, cy, w, h, r], i) =>
    d3.range(0, 361, 3).map(t => {
      const a = t * Math.PI / 180;
      return {i, x: cx + w * Math.cos(a), y: cy + h * (r * Math.cos(a) + Math.sqrt(1 - r * r) * Math.sin(a))};
    }));
}

function panel(name, pts, ell) {
  return Plot.plot({
    width: 530, height: 485,
    marginLeft: 43, marginRight: 2, marginTop: 10, marginBottom: 44,
    x: {domain: xDomain},
    y: {domain: yDomain, reverse: true},
    style: {fontFamily: '"Liberation Sans", Arial, sans-serif', fontSize: "14px", color: "#222", background: "transparent", overflow: "visible"},
    marks: [
      Plot.dot(pts, {x: d => d[0], y: d => d[1], r: 2.5, stroke: PTS, strokeWidth: 0.85, fill: "none"}),
      Plot.line(outline(ell), {x: "x", y: "y", z: "i", stroke: GREEN, strokeWidth: 1.9, curve: "linear-closed"}),
      Plot.ruleY(targetGrid, {y: "y", x1: d => d.x - crossHalfX, x2: d => d.x + crossHalfX, stroke: RED, strokeWidth: 4.2}),
      Plot.ruleX(targetGrid, {x: "x", y1: d => d.y - crossHalfY, y2: d => d.y + crossHalfY, stroke: RED, strokeWidth: 4.2}),
      Plot.ruleX([xDomain[0]], {stroke: AXIS, strokeWidth: 1.2}),
      Plot.ruleY([yDomain[1]], {stroke: AXIS, strokeWidth: 1.2}),
      Plot.axisX({ticks: xTicks, tickSize: 7, tickPadding: 13, label: null, stroke: AXIS, fontSize: 14}),
      Plot.axisY({ticks: yTicks, tickSize: 7, tickFormat: () => "", label: null, stroke: AXIS}),
      Plot.text(yTicks, {y: d => d, text: d => String(d), frameAnchor: "left", dx: -24, rotate: -90, textAnchor: "middle", lineAnchor: "middle", fontSize: 14, fill: "#222"}),
      Plot.text([name], {frameAnchor: "top-left", dx: 34, dy: 2, text: d => d, textAnchor: "start", lineAnchor: "top", fontSize: 30, fill: "#000"})
    ]
  });
}

const fig = document.getElementById("fig");
[[handPts, handEll], [armPts, armEll], [padPts, padEll], [wallPts, wallEll]].forEach(([pts, ell], k) => {
  const svg = panel(panelNames[k], pts, ell);
  svg.style.left = positions[k][0] + "px";
  svg.style.top = positions[k][1] + "px";
  svg.style.maxWidth = "none";
  fig.appendChild(svg);
});
</script>
</body></html>
